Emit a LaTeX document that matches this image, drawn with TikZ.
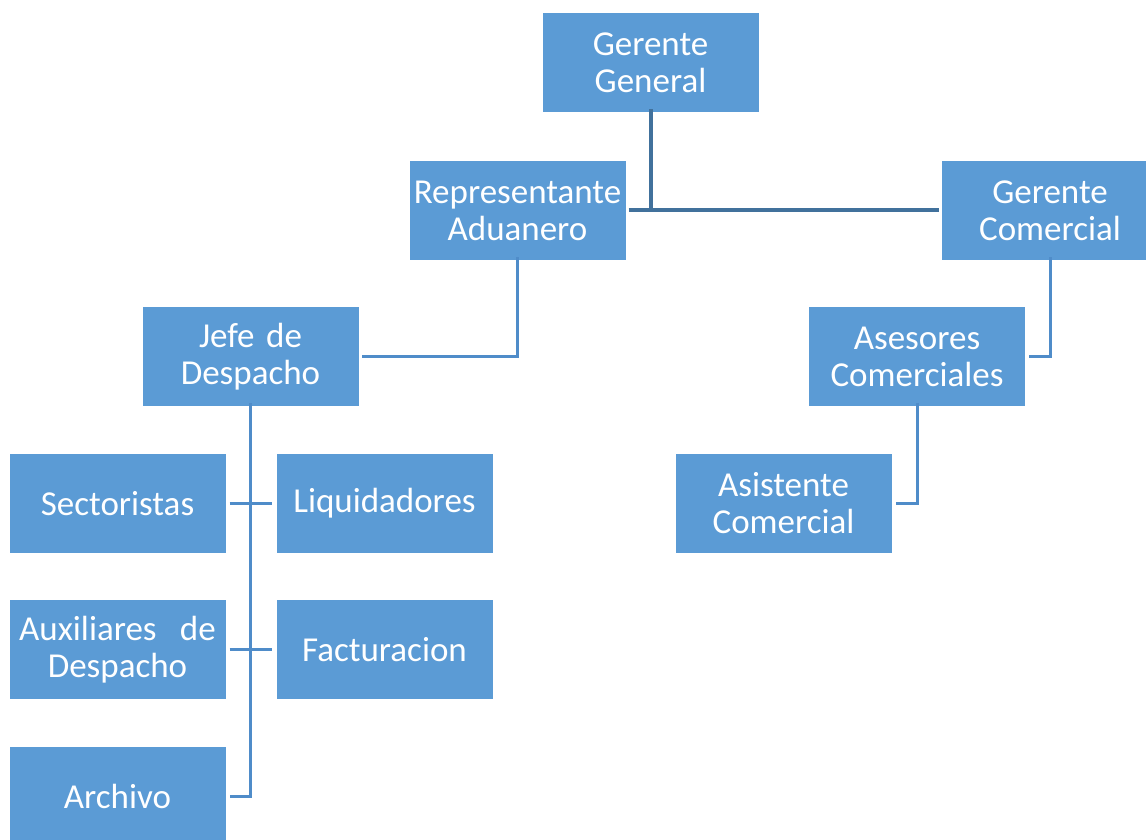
\documentclass[tikz,border=0pt]{standalone}
\usepackage{fontspec}
\setmainfont{Carlito}
\definecolor{boxblue}{HTML}{5B9BD5}
\definecolor{topline}{HTML}{41719C}
\definecolor{subline}{HTML}{4F8CC9}
\begin{document}
\begin{tikzpicture}[x=1pt,y=-1pt,
  org/.style={fill=boxblue, draw=none, text=white, minimum width=216pt, minimum height=99pt,
    text width=210pt, align=center, inner sep=0pt, font=\fontsize{35}{37}\selectfont},
  conn/.style={draw=subline, line width=3pt},
  topconn/.style={draw=topline, line width=4pt}]
\useasboundingbox (0,0) rectangle (1146,839);
\node[org] (gg) at (650.5,62.5) {Gerente\\General};
\node[org] (ra) at (517.5,210.5) {Representante\\Aduanero};
\node[org] (gc) at (1050,210.5) {Gerente\\Comercial};
\node[org] (jd) at (250.5,356.5) {Jefe de\\Despacho};
\node[org] (ac) at (917,356.5) {Asesores\\Comerciales};
\node[org] (se) at (117.5,503.5) {Sectoristas};
\node[org] (li) at (384.5,503.5) {Liquidadores};
\node[org] (as) at (783.5,503.5) {Asistente\\Comercial};
\node[org] (au) at (117.5,649.5) {Auxiliares\ \ de\\Despacho};
\node[org] (fa) at (384.5,649.5) {Facturacion};
\node[org] (ar) at (117.5,796.5) {Archivo};
% top connectors
\coordinate (t1) at (gg.south |- 0,210);
\draw[topconn] ([yshift=3pt]gg.south) -- (t1);
\draw[topconn] ([xshift=3pt]ra.east |- t1) -- ([xshift=-3pt]gc.west |- t1);
% Representante -> Jefe
\draw[conn] ([yshift=3pt]ra.south) |- ([xshift=3pt]jd.east);
% Gerente Comercial -> Asesores
\draw[conn] ([yshift=3pt]gc.south) |- ([xshift=4pt]ac.east);
% Asesores -> Asistente
\draw[conn] ([yshift=3pt]ac.south) |- ([xshift=4pt]as.east);
% Jefe -> subordinates
\draw[conn] ([yshift=3pt]jd.south) |- ([xshift=4pt]ar.east);
\draw[conn] ([xshift=4pt]se.east) -- ([xshift=-4pt]li.west);
\draw[conn] ([xshift=4pt]au.east) -- ([xshift=-4pt]fa.west);
\end{tikzpicture}
\end{document}
